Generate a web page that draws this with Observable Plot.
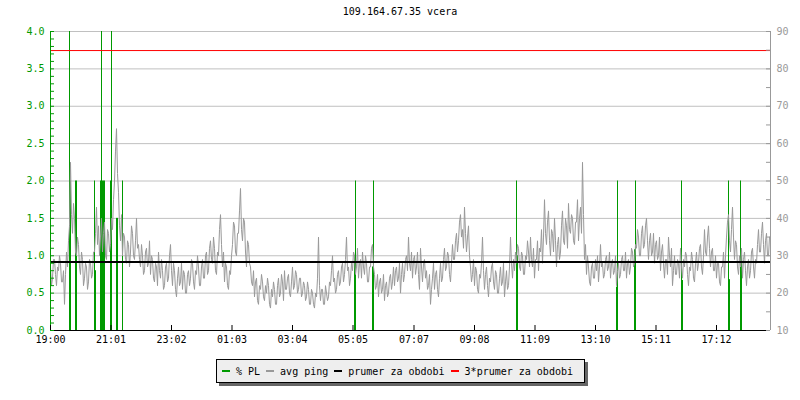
<!DOCTYPE html>
<html>
<head>
<meta charset="utf-8">
<script src="https://cdn.jsdelivr.net/npm/d3@7"></script>
<script src="https://cdn.jsdelivr.net/npm/@observablehq/plot@0.6"></script>
<style>
  html, body { margin: 0; padding: 0; background: #ffffff; }
  #wrap { position: relative; width: 800px; height: 400px; font-family: "DejaVu Sans Mono", monospace; font-size: 10px; }
  #title { position: absolute; top: 6px; left: 0; width: 800px; text-align: center; line-height: 12px; color: #000; }
  #chart { position: absolute; top: 0; left: 0; }
  #legend { position: absolute; left: 216px; top: 359px; width: 362px; height: 22px; border: 1px solid #000;
            background: #eeeeee; box-shadow: 3px 3px 0 #666; display: flex; align-items: center; padding-left: 5px; box-sizing: content-box; }
  #legend .it { display: flex; align-items: center; margin-right: 6px; white-space: pre; }
  #legend .mk { display: inline-block; width: 8px; height: 2px; margin-right: 6px; }
</style>
</head>
<body>
<div id="wrap">
  <div id="title"></div>
  <div id="chart"></div>
  <div id="legend"></div>
</div>
<script>
// ---- data ----
const titleText = "109.164.67.35 vcera";
const timeLabels = ["19:00","21:01","23:02","01:03","03:04","05:05","07:07","09:08","11:09","13:10","15:11","17:12"];
const timeTickMinutes = [0,121,242,363,484,605,727,848,969,1090,1211,1332];
const leftTickLabels = ["0.0","0.5","1.0","1.5","2.0","2.5","3.0","3.5","4.0"];
const leftTickValues = [0,0.5,1,1.5,2,2.5,3,3.5,4];
const rightTickLabels = ["10","20","30","40","50","60","70","80","90"];
const legendLabels = ["% PL","avg ping","prumer za obdobi","3*prumer za obdobi"];
const legendColors = ["#009900","#999999","#000000","#ff0000"];

// packet loss events (minutes after 19:00, % PL)
const plMinutes = [38,40,50,52,88,90,100,102,104,106,108,120,122,132,134,144,
                   608,610,644,646,932,934,1132,1134,1168,1170,1262,1264,1356,1358,1380,1382];
const plValues  = [4,2,2,2,2,0.8,2,4,2,2,2,2,4,1.5,1.5,2,
                   1,2,0.85,2,2,1,0.58,2,1.08,2,2,0.67,2,0.68,2,1];

// average ping (ms), one sample every 2 minutes from 19:00
const pingStepMinutes = 2;
const pingMs = [
 27,22,24,29,29,25,22,27,26,30,28,23,23,26,17,25,31,27,34,38,
 55,41,36,44,40,31,30,35,33,27,25,31,29,22,24,28,27,21,23,29,
 28,24,25,31,31,36,43,33,38,30,35,40,31,36,39,30,29,37,36,31,
 33,40,37,45,50,58,64,52,47,38,34,41,30,36,35,29,28,34,33,27,
 31,38,36,30,29,34,40,32,33,29,27,33,30,25,26,31,32,27,28,34,
 25,30,29,24,23,28,27,22,31,26,24,29,26,21,22,27,28,23,24,30,
 33,26,22,28,26,21,19,24,27,22,23,28,21,26,25,20,20,25,26,22,
 24,29,28,23,21,26,25,30,27,22,22,27,29,24,24,30,31,25,26,32,
 34,29,28,35,32,26,25,31,30,37,41,33,27,31,23,28,27,22,21,26,
 25,30,33,39,38,31,30,36,36,42,48,37,34,40,39,31,27,34,33,28,
 27,23,
 22,26,19,23,24,18,17,22,21,25,23,19,18,22,20,24,22,17,16,21,
 19,23,21,17,17,22,24,19,20,25,23,18,26,21,21,24,25,20,19,23,
 27,21,22,26,25,20,21,24,24,19,20,23,22,18,19,23,21,17,17,21,
 20,17,16,20,19,24,35,22,18,21,21,17,17,22,20,18,19,23,22,26,
 30,23,24,20,21,25,26,22,23,27,28,23,25,29,35,26,27,22,24,28,
 26,31,30,25,27,32,24,28,29,24,31,27,25,30,28,23,23,27,27,32,
 33,27,25,21,22,25,19,23,24,20,21,25,18,22,23,19,20,24,25,21,
 23,27,
 22,26,27,23,24,28,20,25,28,23,25,29,30,26,35,28,26,31,24,29,
 30,25,27,31,25,21,32,27,23,28,29,24,26,21,22,25,17,21,24,28,
 21,25,26,21,19,24,28,23,24,29,32,26,27,31,30,25,23,28,33,29,
 29,34,36,31,34,39,41,35,37,32,43,36,31,35,38,30,27,23,25,29,
 22,27,26,21,20,25,24,28,35,26,21,25,27,22,19,24,23,27,28,23,
 21,26,25,20,20,24,27,22,23,28,19,23,26,21,22,27,35,28,24,29,
 26,31,
 28,33,32,27,26,31,30,25,25,30,29,34,31,27,35,29,27,32,24,29,
 29,34,26,32,31,37,28,35,45,36,33,39,42,34,30,37,36,31,40,34,
 27,33,35,29,31,38,42,34,33,40,38,32,44,37,36,41,40,34,33,39,
 39,45,34,40,43,36,55,41,29,33,25,30,27,23,22,27,28,24,24,29,
 26,30,23,27,33,27,28,24,25,29,30,26,27,31,24,28,29,25,26,30,
 22,26,28,24,25,29,30,26,26,31,24,28,29,25,27,32,31,27,28,33,
 32,37,
 35,30,30,36,38,32,33,38,40,34,29,34,36,30,31,36,28,33,34,29,
 30,35,26,31,33,28,24,29,29,25,35,30,27,32,22,26,30,25,25,29,
 28,24,32,27,24,29,27,31,30,25,22,27,26,31,29,24,23,28,31,26,
 28,32,33,27,25,30,37,31,30,35,38,32,27,31,32,26,26,30,24,28,
 28,23,22,27,27,31,24,30,35,39,41,34,31,37,43,35,29,34,33,27,
 25,30,
 27,32,24,29,31,26,22,27,29,24,26,31,32,27,24,29,28,33,37,31,
 31,36,39,33,28,34,36,30,30,35
];
const avgPingMs = 28.3;

// ---- build ----
const msToY = ms => (ms - 10) / 20;   // right axis (ms) -> left axis units
const pl = plMinutes.map((t, i) => ({t, v: plValues[i]}));
const ping = pingMs.map((ms, i) => ({t: i * pingStepMinutes, ms}));
const timeLabelMap = new Map(timeTickMinutes.map((m, i) => [m, timeLabels[i]]));
const rightLabelMap = new Map(leftTickValues.map((v, i) => [v, rightTickLabels[i]]));
const green = "#009900", grey = "#999999";

document.getElementById("title").textContent = titleText;

const chart = Plot.plot({
  width: 800,
  height: 350,
  marginLeft: 50,
  marginRight: 30,
  marginTop: 31,
  marginBottom: 20,
  x: {domain: [0, 1440], label: null},
  y: {domain: [0, 4], label: null},
  style: {fontFamily: "DejaVu Sans Mono, monospace", fontSize: "10px", background: "transparent", overflow: "visible"},
  marks: [
    Plot.ruleY(leftTickValues.slice(1), {stroke: "#c0c0c0"}),
    Plot.ruleX(pl, {x: "t", y1: 0, y2: "v", stroke: green}),
    Plot.line(ping, {x: "t", y: d => msToY(d.ms), stroke: grey, strokeWidth: 1, curve: "linear"}),
    Plot.ruleY([msToY(avgPingMs)], {stroke: "#000", strokeWidth: 2}),
    Plot.ruleY([msToY(3 * avgPingMs)], {stroke: "#ff0000"}),
    // axis lines
    Plot.ruleY([0], {stroke: "#000"}),
    Plot.ruleX([0], {stroke: green}),
    Plot.ruleX([1440], {stroke: grey}),
    // inner ticks
    Plot.ruleY(d3.range(0, 4.001, 0.1), {stroke: green, insetRight: 716}),
    Plot.ruleY(d3.range(0, 4.001, 0.25), {stroke: grey, insetLeft: 716}),
    Plot.ruleX(timeTickMinutes, {stroke: "#000", insetTop: 294}),
    // labels
    Plot.axisY({anchor: "left", ticks: leftTickValues, tickFormat: (d) => leftTickLabels[leftTickValues.indexOf(d)], tickSize: 0, tickPadding: 6, color: green, label: null}),
    Plot.axisY({anchor: "right", ticks: leftTickValues, tickFormat: (d) => rightLabelMap.get(d), tickSize: 0, tickPadding: 6, color: grey, label: null}),
    Plot.axisX({ticks: timeTickMinutes, tickFormat: (d) => timeLabelMap.get(d), tickSize: 0, tickPadding: 5, color: "#000", label: null})
  ]
});
document.getElementById("chart").appendChild(chart);

const legend = document.getElementById("legend");
legendLabels.forEach((lab, i) => {
  const it = document.createElement("span");
  it.className = "it";
  const mk = document.createElement("span");
  mk.className = "mk";
  mk.style.background = legendColors[i];
  it.appendChild(mk);
  it.appendChild(document.createTextNode(lab));
  legend.appendChild(it);
});
</script>
</body>
</html>
